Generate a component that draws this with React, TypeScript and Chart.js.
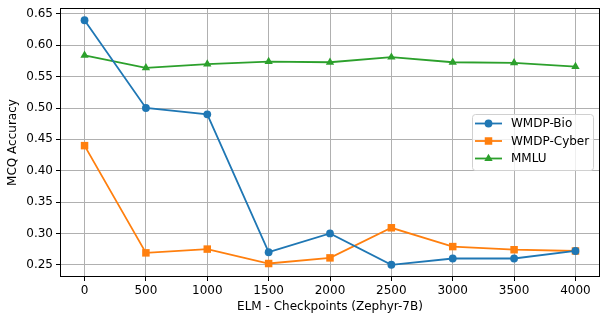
import React, { useEffect, useRef } from 'react';
import { Chart, registerables } from 'chart.js';

Chart.register(...registerables);

const checkpoints = [0, 500, 1000, 1500, 2000, 2500, 3000, 3500, 4000];
const wmdpBio = [0.64, 0.5, 0.49, 0.27, 0.3, 0.25, 0.26, 0.26, 0.272];
const wmdpCyber = [0.44, 0.269, 0.275, 0.252, 0.261, 0.309, 0.279, 0.274, 0.272];
const mmlu = [0.584, 0.564, 0.57, 0.574, 0.573, 0.581, 0.573, 0.572, 0.566];
const yTicks = [0.25, 0.3, 0.35, 0.4, 0.45, 0.5, 0.55, 0.6, 0.65];
const xTicks = checkpoints;
const seriesNames = ['WMDP-Bio', 'WMDP-Cyber', 'MMLU'];
const colors = ['#1f77b4', '#ff7f0e', '#2ca02c'];
const shapes = ['circle', 'rect', 'triangle'];
const radii = [3.9, 5.3, 4.8];

const FONT = '"DejaVu Sans", sans-serif';

function drawMarker(ctx: CanvasRenderingContext2D, shape: string, x: number, y: number, r: number) {
  ctx.beginPath();
  if (shape === 'circle') {
    ctx.arc(x, y, r, 0, Math.PI * 2);
  } else if (shape === 'rect') {
    const s = r * Math.SQRT1_2;
    ctx.rect(x - s, y - s, 2 * s, 2 * s);
  } else {
    let rad = 0;
    ctx.moveTo(x + Math.sin(rad) * r, y - Math.cos(rad) * r);
    rad += (2 * Math.PI) / 3;
    ctx.lineTo(x + Math.sin(rad) * r, y - Math.cos(rad) * r);
    rad += (2 * Math.PI) / 3;
    ctx.lineTo(x + Math.sin(rad) * r, y - Math.cos(rad) * r);
    ctx.closePath();
  }
  ctx.fill();
}

const framePlugin = {
  id: 'frame',
  afterDatasetsDraw(chart: any) {
    const { ctx, chartArea } = chart;
    ctx.save();
    ctx.strokeStyle = '#000';
    ctx.lineWidth = 1;
    ctx.strokeRect(
      Math.round(chartArea.left) + 0.5,
      Math.round(chartArea.top) + 0.5,
      Math.round(chartArea.right - chartArea.left) - 1,
      Math.round(chartArea.bottom - chartArea.top) - 1
    );
    ctx.restore();
  },
  afterDraw(chart: any) {
    const { ctx, chartArea } = chart;
    const bx = chartArea.right - 128;
    const by = chartArea.top + 106;
    const bw = 121;
    const bh = 56;
    ctx.save();
    ctx.fillStyle = 'rgba(255,255,255,0.8)';
    ctx.strokeStyle = '#d0d0d0';
    ctx.lineWidth = 1;
    ctx.beginPath();
    ctx.roundRect(bx + 0.5, by + 0.5, bw, bh, 3);
    ctx.fill();
    ctx.stroke();
    ctx.font = `12px ${FONT}`;
    ctx.textBaseline = 'middle';
    ctx.textAlign = 'left';
    for (let i = 0; i < seriesNames.length; i++) {
      const cy = by + 9.5 + i * 17.5;
      ctx.strokeStyle = colors[i];
      ctx.lineWidth = 1.8;
      ctx.beginPath();
      ctx.moveTo(bx + 3, cy);
      ctx.lineTo(bx + 30, cy);
      ctx.stroke();
      ctx.fillStyle = colors[i];
      drawMarker(ctx, shapes[i], bx + 16.5, cy, radii[i]);
      ctx.fillStyle = '#000';
      ctx.fillText(seriesNames[i], bx + 39, cy + 0.5);
    }
    ctx.restore();
  },
};

export default function App() {
  const ref = useRef<HTMLCanvasElement>(null);
  useEffect(() => {
    document.body.style.margin = '0';
    const series = [wmdpBio, wmdpCyber, mmlu];
    const chart = new Chart(ref.current!, {
      type: 'line',
      data: {
        datasets: series.map((vals, i) => ({
          label: seriesNames[i],
          data: checkpoints.map((x, j) => ({ x, y: vals[j] })),
          borderColor: colors[i],
          backgroundColor: colors[i],
          borderWidth: 1.8,
          pointStyle: shapes[i] as any,
          pointRadius: radii[i],
          pointBorderWidth: 0,
          pointHoverRadius: radii[i],
          tension: 0,
          fill: false,
        })),
      },
      options: {
        animation: false,
        responsive: false,
        events: [],
        layout: { padding: { top: 8, right: 9, left: 0, bottom: 8 } },
        plugins: { legend: { display: false }, tooltip: { enabled: false } },
        scales: {
          x: {
            type: 'linear',
            min: -200,
            max: 4200,
            afterBuildTicks: (s: any) => {
              s.ticks = xTicks.map((v) => ({ value: v }));
            },
            afterFit: (s: any) => {
              s.height = 322 - 277 - 8;
              s.paddingLeft = 0;
              s.paddingRight = 0;
            },
            grid: { color: '#b0b0b0', lineWidth: 1, tickColor: '#000', tickLength: 4, drawTicks: true },
            border: { display: false },
            ticks: {
              color: '#000',
              font: { family: FONT, size: 12 },
              padding: 3,
              maxRotation: 0,
              autoSkip: false,
              callback: (v: any) => String(v),
            },
            title: {
              display: true,
              text: 'ELM - Checkpoints (Zephyr-7B)',
              color: '#000',
              font: { family: FONT, size: 12 },
              padding: { top: 0, bottom: 0 },
            },
          },
          y: {
            type: 'linear',
            min: 0.2305,
            max: 0.6595,
            afterBuildTicks: (s: any) => {
              s.ticks = yTicks.map((v) => ({ value: v }));
            },
            afterFit: (s: any) => {
              s.width = 60;
              s.paddingTop = 0;
              s.paddingBottom = 0;
            },
            grid: { color: '#b0b0b0', lineWidth: 1, tickColor: '#000', tickLength: 4, drawTicks: true },
            border: { display: false },
            ticks: {
              color: '#000',
              font: { family: FONT, size: 12 },
              padding: 3,
              autoSkip: false,
              callback: (v: any) => Number(v).toFixed(2),
            },
            title: {
              display: true,
              text: 'MCQ Accuracy',
              color: '#000',
              font: { family: FONT, size: 12 },
              padding: { top: 6, bottom: 0 },
            },
          },
        },
      },
      plugins: [framePlugin],
    });
    return () => chart.destroy();
  }, []);
  return (
    <div style={{ width: 609, height: 322 }}>
      <canvas ref={ref} width={609} height={322} style={{ display: 'block' }} />
    </div>
  );
}
